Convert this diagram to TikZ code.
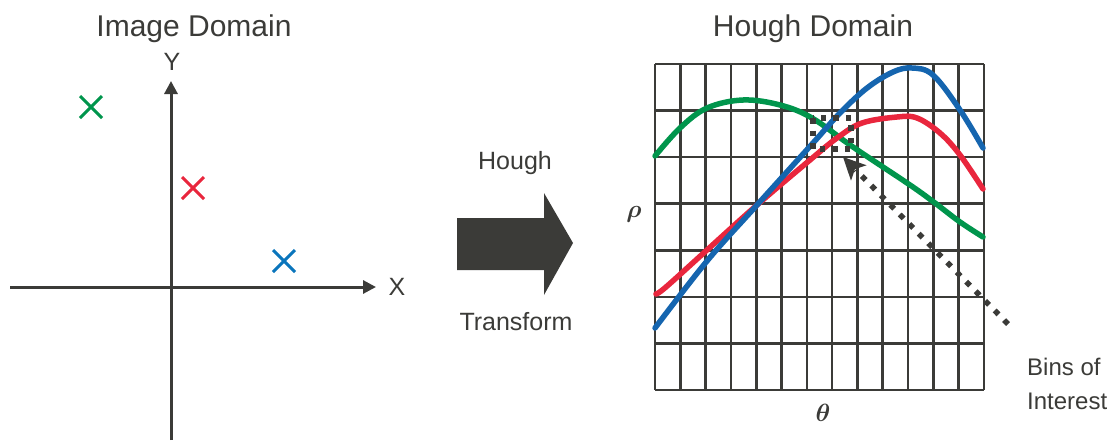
\documentclass[tikz,border=0pt]{standalone}
\usepackage{fontspec}
\setmainfont{Liberation Sans}
\usepackage{amsmath,bm}
\usetikzlibrary{arrows.meta,calc}
\definecolor{dk}{HTML}{3B3B38}
\definecolor{gr}{HTML}{00954C}
\definecolor{rd}{HTML}{E9263D}
\definecolor{bl}{HTML}{1565AF}
\definecolor{blx}{HTML}{0A75BC}
\tikzset{
  title/.style={font=\fontsize{30}{34}\selectfont, text=dk, anchor=base, inner sep=0pt},
  lbl/.style={font=\fontsize{25}{30}\selectfont, text=dk, anchor=base, inner sep=0pt},
  axis/.style={dk, line width=3pt, -{Triangle[length=13pt,width=13pt]}},
  gridline/.style={dk, line width=2.6pt},
  curve/.style={line width=5.5pt, line cap=round},
  cross/.style={line width=3pt},
  dots/.style={dk, line width=5.5pt, dash pattern=on 5.5pt off 8pt},
  boxdots/.style={dk, line width=5.5pt, dash pattern=on 5.5pt off 7pt},
}
\begin{document}
\begin{tikzpicture}[x=1pt,y=-1pt]
\useasboundingbox (0,0) rectangle (1118,442);
% titles
\node[title] (t1) at (194,36) {Image Domain};
\node[title] (t2) at (813,36) {Hough Domain};
% axes
\coordinate (xl) at (10,287);
\coordinate (xr) at (376,287);
\coordinate (yb) at (171,440);
\coordinate (yt) at (171,81);
\draw[axis] (xl) -- (xr);
\draw[axis] (yb) -- (yt);
\node[lbl] (X) at (397,295) {X};
\node[lbl] (Y) at (172,70) {Y};
% crosses
\foreach \cx/\cy/\col/\nm in {91/107/gr/cg, 193/188/rd/cr, 284/261/blx/cb}{
  \coordinate (\nm) at (\cx,\cy);
  \draw[cross,\col] ([shift={(-11,-11)}]\nm) -- ([shift={(11,11)}]\nm);
  \draw[cross,\col] ([shift={(-11,11)}]\nm) -- ([shift={(11,-11)}]\nm);
}
% big arrow
\fill[dk] (457,218) -- (544,218) -- (544,193) -- (573,243) -- (544,295) -- (544,270) -- (457,270) -- cycle;
\node[lbl] (h) at (515,169) {Hough};
\node[lbl] (tr) at (516,330) {Transform};
% grid
\foreach \i in {0,...,13}{
  \draw[gridline] ({655+\i*25.3},64) -- ({655+\i*25.3},390);
}
\foreach \j in {0,...,7}{
  \draw[gridline] (655,{64+\j*46.57}) -- (984,{64+\j*46.57});
}
% curves
\draw[curve,gr] plot[smooth,tension=0.6] coordinates {(655,156) (680,128) (707,108) (743,100) (780,105) (812,118) (853,147) (910,185) (935,203) (960,222) (983,237)};
\draw[curve,rd] plot[smooth,tension=0.6] coordinates {(656,294) (666,287) (707,250) (757,205) (810,160) (837,138) (862,123) (897,117) (917,118) (940,133) (960,155) (983,189)};
\draw[curve,bl] plot[smooth,tension=0.6] coordinates {(655,328) (707,261) (757,205) (813,143) (840,113) (867,88) (893,72) (912,68) (933,75) (960,110) (983,148)};
% bins of interest
\draw[boxdots] (813,118) rectangle (851,149);
\coordinate (ds) at (1008,324);
\coordinate (de) at (843,157);
\coordinate (dm) at ($(de)!18pt!(ds)$);
\draw[dots] (ds) -- (dm);
\fill[dk] (de) -- ($(de)!25pt!26:(ds)$) -- ($(de)!17pt!(ds)$) -- ($(de)!25pt!-26:(ds)$) -- cycle;
\node[lbl, anchor=base west, font=\fontsize{24}{30}\selectfont] (b1) at (1027,375) {Bins of};
\node[lbl, anchor=base west, font=\fontsize{24}{30}\selectfont] (b2) at (1027,409) {Interest};
% axis labels
\node[text=dk, font=\fontsize{26}{30}\selectfont, inner sep=0pt] (rho) at (634,214) {$\bm{\rho}$};
\node[text=dk, font=\fontsize{26}{30}\selectfont, inner sep=0pt] (th) at (823,413) {$\bm{\theta}$};
\end{tikzpicture}
\end{document}
